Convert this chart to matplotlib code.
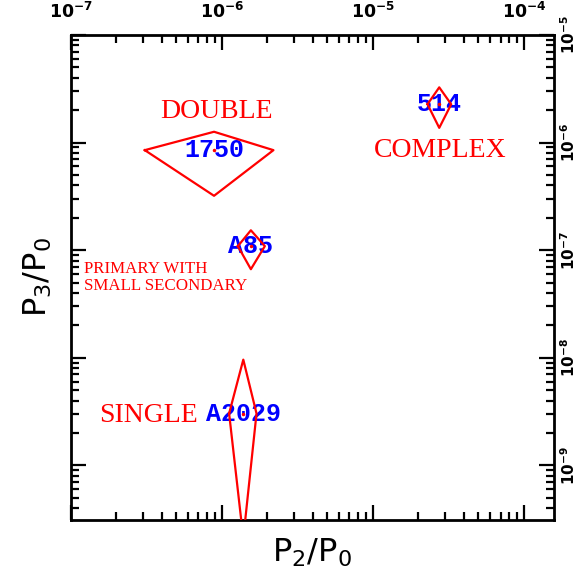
import numpy as np
import matplotlib
matplotlib.use('Agg')
import matplotlib.pyplot as plt
from matplotlib import ticker

# Cluster power ratios: P2/P0 (x) and P3/P0 (y), with the error ranges
names = ['1750', '514', 'A85', 'A2029']
p2 = [8.9e-7, 2.75e-5, 1.56e-6, 1.39e-6]
p2_lo = [3.1e-7, 2.3e-5, 1.28e-6, 1.12e-6]
p2_hi = [2.2e-6, 3.3e-5, 1.93e-6, 1.70e-6]
p3 = [8.5e-7, 2.27e-6, 1.09e-7, 3.03e-9]
p3_lo = [3.2e-7, 1.37e-6, 6.65e-8, 2.1e-10]
p3_hi = [1.26e-6, 3.26e-6, 1.53e-7, 9.6e-9]

# Morphology class labels and where they sit
classes = ['DOUBLE', 'COMPLEX', 'SINGLE', 'PRIMARY WITH\nSMALL SECONDARY']
class_x = [9.2e-7, 2.78e-5, 3.27e-7, 1.22e-7]
class_y = [1.94e-6, 8.35e-7, 2.88e-9, 5.6e-8]

xlim = (1e-7, 1.58e-4)
ylim = (3.1e-10, 1e-5)
xdecades = [-7, -6, -5, -4]
ydecades = [-9, -8, -7, -6, -5]


def log_minor(lo, hi):
    # 2..9 x 10^n ticks that fall inside (lo, hi)
    vals = [m * 10.0 ** e for e in range(-12, 0) for m in range(2, 10)]
    return [v for v in vals if lo < v < hi]


fig = plt.figure(figsize=(5.8, 5.83), dpi=100)
ax = fig.add_axes([0.1216, 0.108, 0.8336, 0.832])
ax.set_xscale('log')
ax.set_yscale('log')
ax.set_xlim(*xlim)
ax.set_ylim(*ylim)

for s in ax.spines.values():
    s.set_linewidth(2.0)

ax.xaxis.set_major_locator(ticker.FixedLocator([10.0 ** e for e in xdecades]))
ax.yaxis.set_major_locator(ticker.FixedLocator([10.0 ** e for e in ydecades]))
ax.xaxis.set_minor_locator(ticker.FixedLocator(log_minor(*xlim)))
ax.yaxis.set_minor_locator(ticker.FixedLocator(log_minor(*ylim)))
ax.xaxis.set_major_formatter(ticker.FixedFormatter(
    [r'$\mathbf{10^{%d}}$' % e for e in xdecades]))
ax.yaxis.set_major_formatter(ticker.FixedFormatter(
    [r'$\mathbf{10^{%d}}$' % e for e in ydecades]))
ax.xaxis.set_minor_formatter(ticker.NullFormatter())
ax.yaxis.set_minor_formatter(ticker.NullFormatter())

ax.tick_params(which='both', direction='in', top=True, bottom=True,
               left=True, right=True, labelbottom=False, labelleft=False,
               labeltop=True, labelright=True, width=1.6)
ax.tick_params(which='major', length=11)
ax.tick_params(which='minor', length=5.5)
ax.tick_params(axis='x', pad=9, labelsize=12.5)
ax.tick_params(axis='y', pad=4, labelrotation=90, labelsize=11)
for lab in ax.get_yticklabels():
    lab.set_va('center')

ax.set_xlabel('P$_2$/P$_0$', fontsize=23, labelpad=12)
ax.set_ylabel('P$_3$/P$_0$', fontsize=23, labelpad=12)

# cluster names, then the error diamonds on top
for i, n in enumerate(names):
    ax.text(p2[i], p3[i], n, color='blue', fontsize=18, fontweight='bold',
            family='Liberation Mono', ha='center', va='center', zorder=2)
    dx = [p2_lo[i], p2[i], p2_hi[i], p2[i], p2_lo[i]]
    dy = [p3[i], p3_hi[i], p3[i], p3_lo[i], p3[i]]
    ax.plot(dx, dy, color='red', lw=1.6, zorder=3)
    ax.plot(p2[i], p3[i], 'o', color='red', ms=1.5, zorder=4)

for i, c in enumerate(classes):
    if '\n' in c:
        ax.text(class_x[i], class_y[i], c, color='red', fontsize=12.2,
                family='Liberation Serif', ha='left', va='center',
                linespacing=1.1)
    else:
        ax.text(class_x[i], class_y[i], c, color='red', fontsize=20,
                family='Liberation Serif', ha='center', va='center')

fig.savefig('out.png', dpi=100)
